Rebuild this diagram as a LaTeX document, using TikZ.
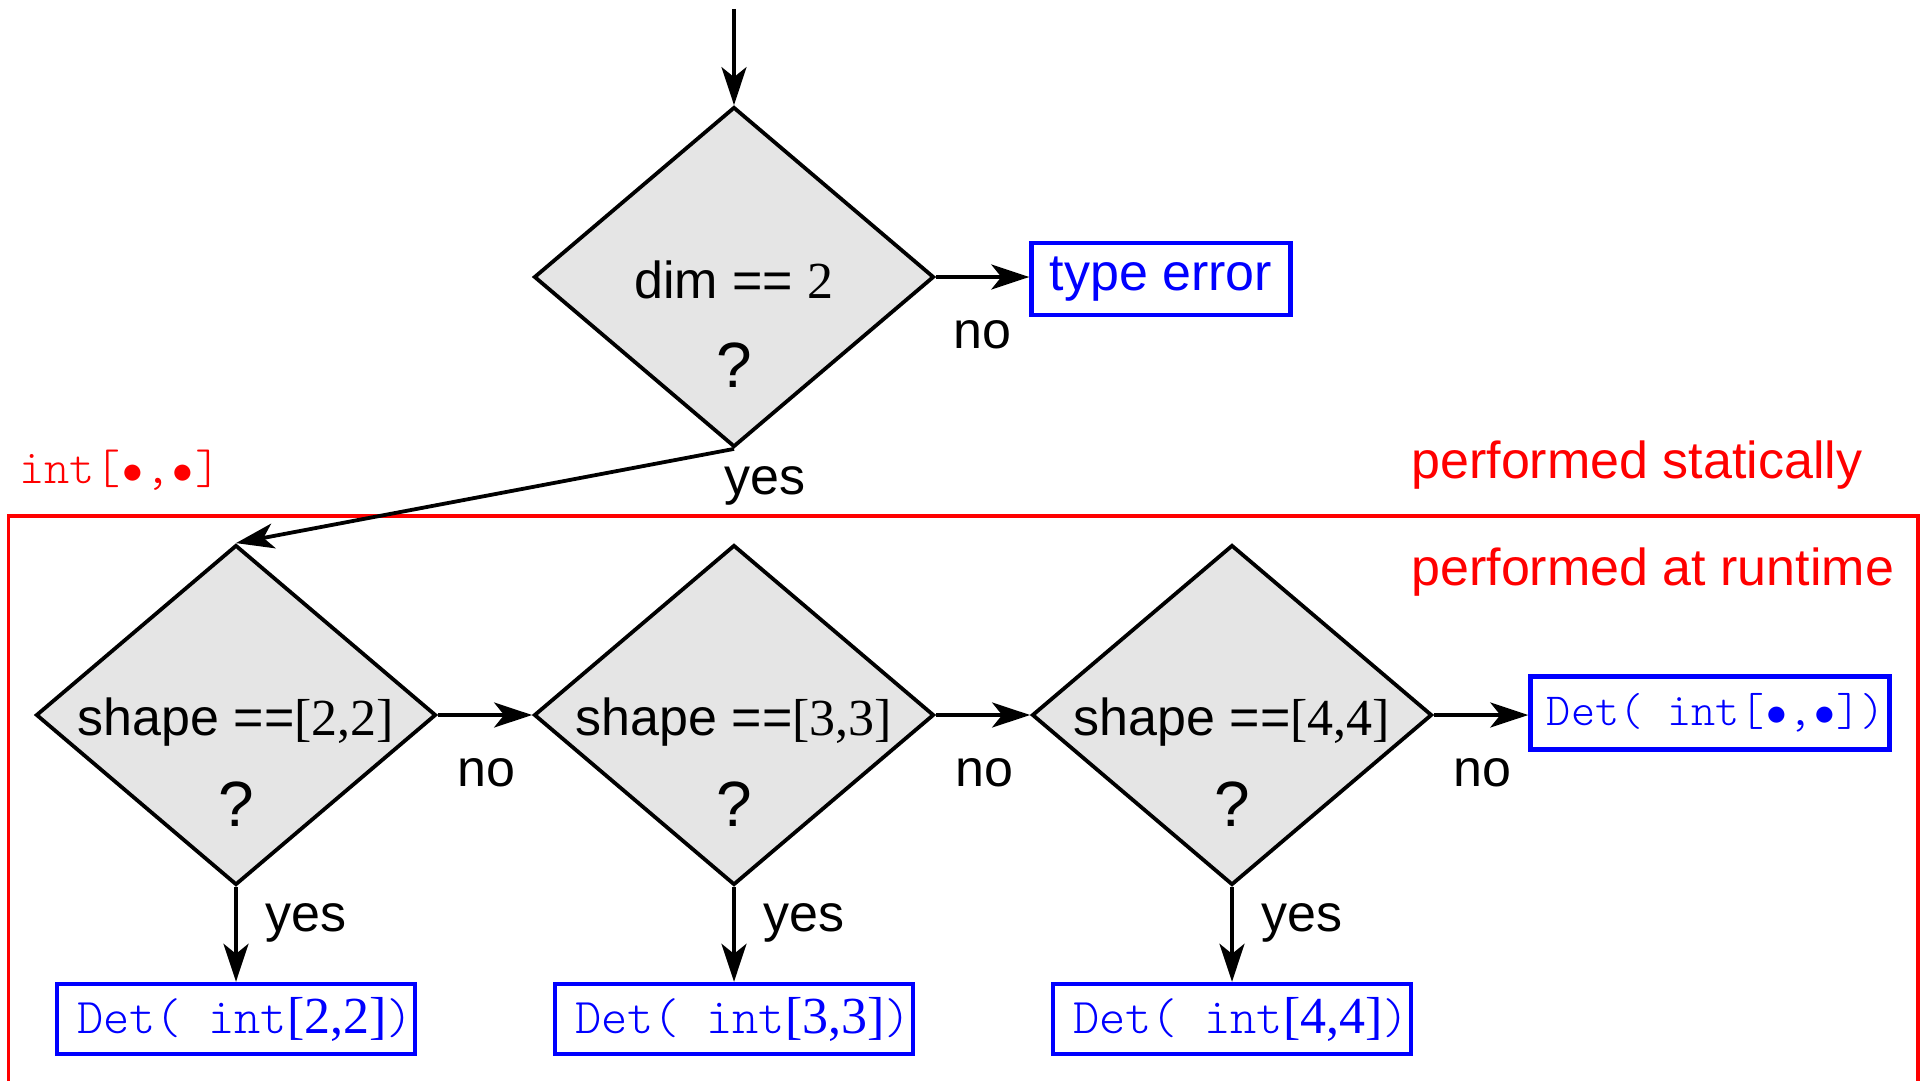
\documentclass[tikz,border=0pt]{standalone}
\usepackage{fontspec}
\setmainfont{Liberation Serif}
\setsansfont{Liberation Sans}
\usetikzlibrary{shapes.geometric,arrows.meta,calc}
\definecolor{decfill}{RGB}{229,229,229}
\newcommand{\codefont}[1]{\fontsize{#1}{#1}\fontseries{l}\ttfamily\selectfont}
\newcommand{\bul}{\makebox[0.525em]{\fontsize{20pt}{20pt}\selectfont$\bullet$}}
\begin{document}
\begin{tikzpicture}[x=0.5pt,y=-0.5pt,
  dec/.style={diamond,draw=black,fill=decfill,line width=1.9pt,minimum width=200pt,minimum height=170pt,inner sep=0pt},
  flow/.style={-{Stealth[length=19pt,width=12.5pt,inset=5pt]},line width=1.9pt},
  lbl/.style={inner sep=0pt,font=\fontsize{26}{30}\selectfont\sffamily},
  qmark/.style={inner sep=0pt,font=\fontsize{32}{36}\selectfont\sffamily},
  res/.style={draw=blue,line width=2.2pt,text=blue,inner sep=0pt,minimum height=35pt},
  redtxt/.style={inner sep=0pt,text=red,anchor=base west}]
\useasboundingbox (0,0) rectangle (1927,1081);
% static/runtime frame
\draw[red,line width=1.7pt] (8.6,1090) -- (8.6,516) -- (1918,516) -- (1918,1090);
\node[redtxt,font=\codefont{24pt}] (sig) at (19,483) {int[\bul,\bul]};
\node[redtxt,font=\fontsize{26}{30}\selectfont\sffamily] (stat) at (1411,478) {performed statically};
\node[redtxt,font=\fontsize{26}{30}\selectfont\sffamily] (rt) at (1411,585) {performed at runtime};
% top decision
\coordinate (start) at (734,9);
\node[dec] (d1) at (734,277) {};
\node[lbl,anchor=base] (t1) at ($(d1.center)+(0,21)$) {dim == {\rmfamily 2}};
\node[qmark,anchor=base] (q1) at ($(d1.center)+(0,110)$) {?};
\node[res,minimum width=129.5pt,minimum height=36pt,font=\fontsize{26}{30}\selectfont\sffamily] (te) at (1161,279) {type error};
\draw[flow] (start) -- (d1.north);
\draw[flow] (d1.east) -- (d1.east -| te.west);
\node[lbl,anchor=base] (no1) at (982,348) {no};
\node[lbl,anchor=base] (yes1) at (765,494) {yes};
% row of decisions
\foreach \n/\x/\v in {2/236/2,3/734/3,4/1232/4}{
  \node[dec] (d\n) at (\x,715) {};
  \node[lbl,anchor=base] (t\n) at ($(d\n.center)+(0,20)$) {shape ==\rmfamily[\v,\v]};
  \node[qmark,anchor=base] (q\n) at ($(d\n.center)+(0,111)$) {?};
  \node[res,minimum width=179pt] (b\n) at (\x,1019)
    {\hspace*{9pt}\codefont{25pt}Det(\ int\fontsize{26}{30}\fontseries{m}\rmfamily\selectfont[\v,\v]\codefont{25pt})};
  \draw[flow] (d\n.south) -- (b\n.north);
  \node[lbl,anchor=base] (no\n) at ($(d\n.east)+(49,71)$) {no};
  \node[lbl,anchor=base] (yes\n) at ($(d\n.center)+(70,216)$) {yes};
}
\node[res,minimum width=179.5pt,minimum height=36.5pt,font=\codefont{23pt}] (r4) at (1710,713) {\hspace*{6pt}Det( int[\bul,\bul])};
\draw[flow] (d1.south) -- (d2.north);
\draw[flow] (d2.east) -- (d3.west);
\draw[flow] (d3.east) -- (d4.west);
\draw[flow] (d4.east) -- (d4.east -| r4.west);
\end{tikzpicture}
\end{document}
